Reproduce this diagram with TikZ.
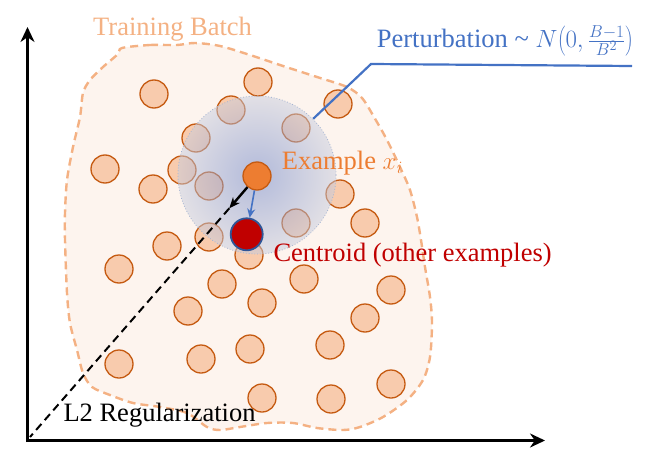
\documentclass[tikz,border=0pt]{standalone}
\usepackage{fontspec}
\setmainfont{Liberation Serif}
\usetikzlibrary{arrows.meta}
\definecolor{peach}{HTML}{F8CBAD}
\definecolor{brownline}{HTML}{C55A11}
\definecolor{exorange}{HTML}{ED7D31}
\definecolor{cred}{HTML}{C00000}
\definecolor{cblue}{HTML}{4472C4}
\definecolor{cblueb}{HTML}{2F5597}
\definecolor{batchline}{HTML}{F4B183}
\definecolor{batchfill}{HTML}{FDF4EE}
\definecolor{gin}{RGB}{105,130,200}
\definecolor{gout}{RGB}{200,205,222}
\definecolor{gedge}{RGB}{165,180,210}
\begin{document}
\begin{tikzpicture}[x=1pt,y=-1pt,
  dot/.style={circle,minimum size=28pt,inner sep=0pt,fill=peach,draw=brownline,line width=1.3pt},
  lbl/.style={inner sep=0pt,anchor=base west,font=\fontsize{26.5}{30}\selectfont},
  axis/.style={line width=3pt,-{Stealth[length=15pt,width=14pt]}}]
\useasboundingbox (0,0) rectangle (664,463);
% training batch blob
\draw[batchline,fill=batchfill,line width=2.4pt,dash pattern=on 8pt off 5pt]
  plot[smooth cycle,tension=0.5] coordinates {
  (122,48) (150,45) (177,45) (195,43) (220,46) (250,55) (283,66) (317,77)
  (347,87) (362,98) (374,117) (387,140) (400,167) (410,190) (417,217)
  (421,240) (425,267) (430,297) (432,323) (430,357) (423,380) (407,400)
  (383,417) (360,427) (343,430) (317,428) (293,423) (267,423) (240,427)
  (220,430) (207,427) (187,413) (160,407) (133,403) (110,395) (92,387)
  (83,373) (77,350) (70,323) (67,293) (65,240) (65,213) (67,180) (73,147)
  (80,117) (83,93) (90,80) (103,67) (118,54)};
% other examples
\foreach \p [count=\i] in {(154,94),(258,82),(338,104),(231,110),(296,128),
  (196,138),(105,169),(182,170),(209,186),(153,189),(340,194),(296,223),
  (365,223),(167,246),(209,237),(249,255),(119,269),(222,284),(304,279),
  (391,290),(262,303),(188,311),(365,318),(330,345),(250,349),(201,359),
  (119,364),(391,384),(262,398),(331,399)}
  \node[dot] (c\i) at \p {};
% perturbation region
\node[circle,minimum size=158pt,inner sep=0pt,inner color=gin,outer color=gout,
  fill opacity=0.5,draw=gedge,dotted,line width=0.8pt] (pert) at (257,175) {};
% axes
\coordinate (o) at (27.5,440.5);
\draw[axis] (27.5,442) -- (27.5,27);
\draw[axis] (26,440.5) -- (545,440.5);
% example and centroid
\node[circle,minimum size=28pt,inner sep=0pt,fill=exorange,draw=brownline,line width=1.3pt] (ex) at (257,176) {};
\node[circle,minimum size=32pt,inner sep=0pt,fill=cred,draw=cblueb,line width=1.8pt] (cen) at (246.7,234.3) {};
% L2 regularization direction
\coordinate (tip) at (229.3,208.3);
\coordinate (dend) at (30,437);
\draw[line width=2pt,dash pattern=on 8pt off 5pt] (tip) -- (dend);
\draw[line width=2.4pt,-{Stealth[length=11pt,width=9pt]}] (ex) -- (tip);
\draw[cblue,line width=1.6pt,-{Stealth[length=9pt,width=8pt]}] (ex) -- (cen);
% callout
\coordinate (k) at (371,64);
\coordinate (kend) at (632,66);
\draw[cblue,line width=2.2pt] (pert.45) -- (k) -- (kend);
% labels
\node[lbl,text=batchline] (tb) at (93,35.7) {Training Batch};
\node[lbl,text=cblue] (pl) at (376.7,47.3) {Perturbation \textasciitilde\ $N\mathopen{}\left(0,\frac{B-1}{B^2}\right)$};
\node[lbl,text=exorange] (el) at (281.7,169.3) {Example $x_i$};
\node[lbl,text=cred] (cl) at (273.3,261.7) {Centroid (other examples)};
\node[lbl,text=black] (l2) at (63.3,421.7) {L2 Regularization};
\end{tikzpicture}
\end{document}
